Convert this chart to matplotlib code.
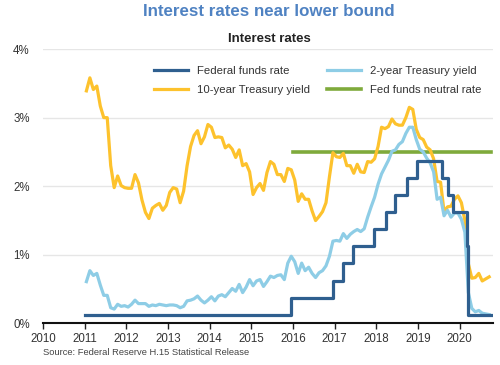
import matplotlib
matplotlib.use("Agg")
import matplotlib.pyplot as plt
import numpy as np

plt.rcParams['font.family'] = ['Liberation Sans', 'DejaVu Sans']

# ---- Data (monthly averages, Jan 2011 - Sep 2020) ----
start_year = 2011
ten_year = [
    3.39, 3.58, 3.41, 3.46, 3.17, 3.00, 3.00, 2.30, 1.98, 2.15, 2.01, 1.98,   # 2011
    1.97, 1.97, 2.17, 2.05, 1.80, 1.62, 1.53, 1.68, 1.72, 1.75, 1.65, 1.72,   # 2012
    1.91, 1.98, 1.96, 1.76, 1.93, 2.30, 2.58, 2.74, 2.81, 2.62, 2.72, 2.90,   # 2013
    2.86, 2.71, 2.72, 2.71, 2.56, 2.60, 2.54, 2.42, 2.53, 2.30, 2.33, 2.21,   # 2014
    1.88, 1.98, 2.04, 1.94, 2.20, 2.36, 2.32, 2.17, 2.17, 2.07, 2.26, 2.24,   # 2015
    2.09, 1.78, 1.89, 1.81, 1.81, 1.64, 1.50, 1.56, 1.63, 1.76, 2.14, 2.49,   # 2016
    2.43, 2.42, 2.48, 2.30, 2.30, 2.19, 2.32, 2.21, 2.20, 2.36, 2.35, 2.40,   # 2017
    2.58, 2.86, 2.84, 2.87, 2.98, 2.91, 2.89, 2.89, 3.00, 3.15, 3.12, 2.83,   # 2018
    2.71, 2.68, 2.57, 2.53, 2.40, 2.07, 2.06, 1.63, 1.70, 1.71, 1.81, 1.86,   # 2019
    1.76, 1.50, 0.87, 0.66, 0.67, 0.73, 0.62, 0.65, 0.68,                     # 2020
]
two_year = [
    0.61, 0.77, 0.70, 0.73, 0.56, 0.41, 0.41, 0.23, 0.21, 0.28, 0.25, 0.26,   # 2011
    0.24, 0.28, 0.34, 0.29, 0.29, 0.29, 0.25, 0.27, 0.26, 0.28, 0.27, 0.26,   # 2012
    0.27, 0.27, 0.26, 0.23, 0.25, 0.33, 0.34, 0.36, 0.40, 0.34, 0.30, 0.34,   # 2013
    0.39, 0.33, 0.40, 0.42, 0.39, 0.45, 0.51, 0.47, 0.57, 0.45, 0.53, 0.64,   # 2014
    0.55, 0.62, 0.64, 0.54, 0.61, 0.69, 0.67, 0.70, 0.71, 0.64, 0.88, 0.98,   # 2015
    0.90, 0.73, 0.88, 0.77, 0.82, 0.73, 0.67, 0.74, 0.77, 0.84, 0.98, 1.20,   # 2016
    1.21, 1.20, 1.31, 1.24, 1.30, 1.34, 1.37, 1.34, 1.38, 1.55, 1.70, 1.84,   # 2017
    2.03, 2.18, 2.28, 2.38, 2.51, 2.53, 2.61, 2.65, 2.77, 2.86, 2.86, 2.68,   # 2018
    2.54, 2.50, 2.41, 2.34, 2.21, 1.81, 1.84, 1.57, 1.65, 1.55, 1.61, 1.61,   # 2019
    1.52, 1.33, 0.45, 0.22, 0.17, 0.19, 0.15, 0.14, 0.13,                     # 2020
]
# Federal funds rate (midpoint of target range): change dates and levels
ff_dates = [2011.0, 2015.96, 2016.95, 2017.20, 2017.45, 2017.95, 2018.22,
            2018.45, 2018.73, 2018.97, 2019.58, 2019.71, 2019.83, 2020.17,
            2020.21, 2020.74]
ff_levels = [0.125, 0.375, 0.625, 0.875, 1.125, 1.375, 1.625,
             1.875, 2.125, 2.375, 2.125, 1.875, 1.625, 1.125,
             0.125, 0.125]
neutral_dates = [2016.0, 2020.74]
neutral_levels = [2.5, 2.5]

years = list(range(2010, 2021))
yticks = [0, 1, 2, 3, 4]
ytick_labels = ["0%", "1%", "2%", "3%", "4%"]

months = start_year + (np.arange(len(ten_year)) + 0.5) / 12.0

# ---- Plot ----
fig = plt.figure(figsize=(5.0, 3.65), dpi=100)
ax = fig.add_axes([0.086, 0.1137, 0.9, 0.752])

c_ff = "#2F5F8F"
c_2y = "#8ECDE6"
c_10y = "#FDC22D"
c_neu = "#7FAA3B"

l10, = ax.plot(months, ten_year, color=c_10y, lw=2.3, label="10-year Treasury yield", zorder=3)
l2, = ax.plot(months, two_year, color=c_2y, lw=2.3, label="2-year Treasury yield", zorder=4)
lff, = ax.plot(ff_dates, ff_levels, color=c_ff, lw=2.3, drawstyle="steps-post",
               label="Federal funds rate", zorder=5)
lneu, = ax.plot(neutral_dates, neutral_levels, color=c_neu, lw=2.6,
                label="Fed funds neutral rate", zorder=2)

ax.set_xlim(2010, 2020.8)
ax.set_ylim(0, 4)
ax.set_xticks(years)
ax.set_xticklabels([str(y) for y in years], fontsize=8.3, color="#333333")
ax.set_yticks(yticks)
ax.set_yticklabels(ytick_labels, fontsize=8.3, color="#333333")
ax.tick_params(axis="y", length=0, pad=21.5)
ax.tick_params(axis="x", length=4, width=1, direction="out", color="#222222", pad=2.5)
for lab in ax.get_yticklabels():
    lab.set_horizontalalignment("left")

ax.grid(axis="y", color="#E6E6E6", lw=1)
ax.set_axisbelow(True)
for s in ["top", "right", "left"]:
    ax.spines[s].set_visible(False)
ax.spines["bottom"].set_color("#111111")
ax.spines["bottom"].set_linewidth(1.5)

leg = fig.legend([lff, l10, l2, lneu],
                 [lff.get_label(), l10.get_label(), l2.get_label(), lneu.get_label()],
                 ncol=2, frameon=False, fontsize=8.2, loc="upper left",
                 bbox_to_anchor=(0.2995, 0.831), borderaxespad=0,
                 handlelength=3.0, columnspacing=1.5,
                 labelspacing=0.78, handletextpad=0.75)
for t in leg.get_texts():
    t.set_color("#333333")

fig.text(0.537, 0.968, "Interest rates near lower bound", ha="center", va="center",
         fontsize=12.2, fontweight="bold", color="#4F82C2")
fig.text(0.538, 0.893, "Interest rates", ha="center", va="center",
         fontsize=9.5, fontweight="bold", color="#222222")
fig.text(0.086, 0.033, "Source: Federal Reserve H.15 Statistical Release",
         ha="left", va="center", fontsize=6.75, color="#444444")

fig.savefig("out.png", dpi=100)
